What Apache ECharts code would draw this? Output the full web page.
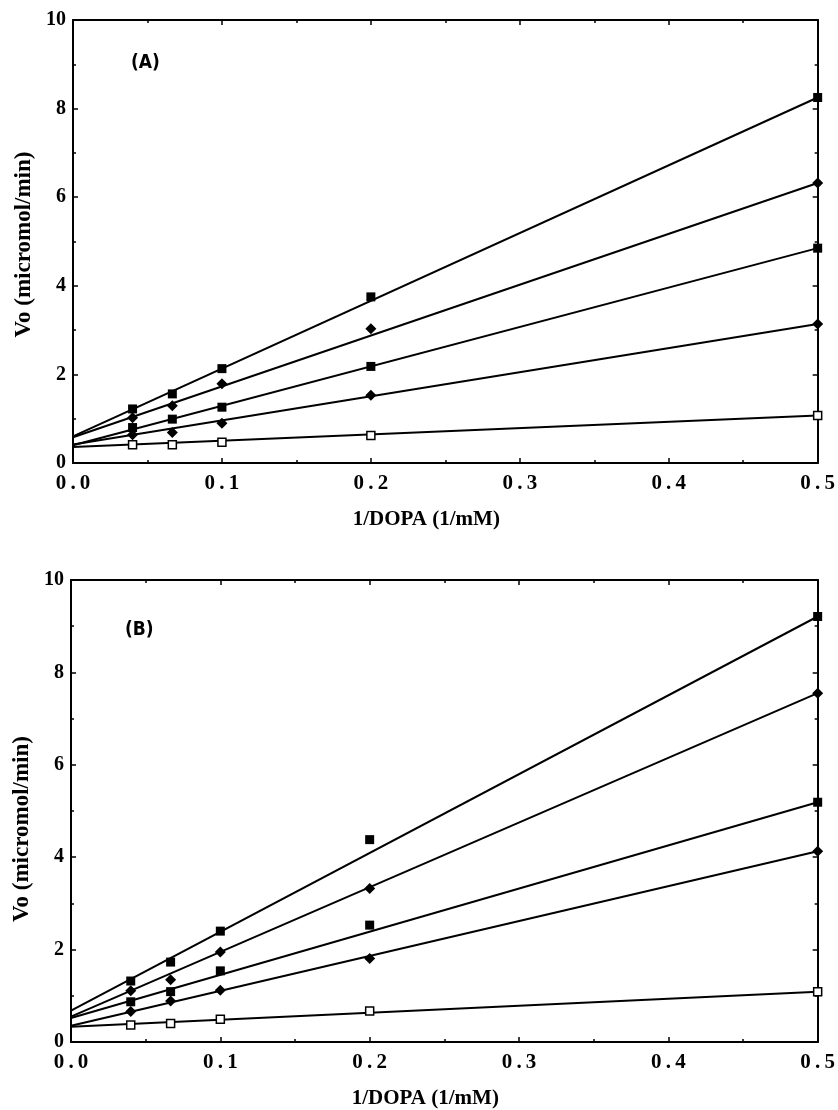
<!DOCTYPE html>
<html>
<head>
<meta charset="utf-8">
<script src="https://cdn.jsdelivr.net/npm/echarts@6/dist/echarts.min.js"></script>
<style>
html,body{margin:0;padding:0;background:#fff;}
#c{width:838px;height:1110px;}
</style>
</head>
<body>
<div id="c"></div>
<script>
// 1/DOPA values (1/mM)
const xValues = [0.04, 0.0667, 0.1, 0.2, 0.5];
const fitX = [0, 0.5];
const xTicks = [0, 0.1, 0.2, 0.3, 0.4, 0.5];
const yTicks = [0, 2, 4, 6, 8, 10];

// Panel A measured Vo
const a1 = [1.22, 1.56, 2.13, 3.75, 8.25];
const a2 = [1.02, 1.29, 1.79, 3.03, 6.32];
const a3 = [0.80, 0.99, 1.26, 2.18, 4.85];
const a4 = [0.64, 0.69, 0.90, 1.53, 3.14];
const a5 = [0.41, 0.41, 0.47, 0.62, 1.07];
// Panel A fitted lines: value at x=0 and x=0.5
const fitA1 = [0.60, 8.25];
const fitA2 = [0.58, 6.32];
const fitA3 = [0.40, 4.85];
const fitA4 = [0.42, 3.14];
const fitA5 = [0.36, 1.07];

// Panel B measured Vo
const b1 = [1.32, 1.73, 2.40, 4.38, 9.21];
const b2 = [1.11, 1.35, 1.95, 3.32, 7.55];
const b3 = [0.87, 1.09, 1.54, 2.53, 5.19];
const b4 = [0.66, 0.89, 1.12, 1.81, 4.13];
const b5 = [0.37, 0.40, 0.49, 0.67, 1.09];
// Panel B fitted lines
const fitB1 = [0.68, 9.21];
const fitB2 = [0.55, 7.55];
const fitB3 = [0.52, 5.19];
const fitB4 = [0.35, 4.13];
const fitB5 = [0.33, 1.09];

const seriesA = [a1, a2, a3, a4, a5];
const seriesB = [b1, b2, b3, b4, b5];
const fitsA = [fitA1, fitA2, fitA3, fitA4, fitA5];
const fitsB = [fitB1, fitB2, fitB3, fitB4, fitB5];

const SERIF = "'Liberation Serif','Times New Roman',serif";
const NARROW = "'Liberation Sans Narrow','DejaVu Sans Condensed','Roboto',sans-serif";
const markerStyles = [
  {symbol: 'rect', size: 9, color: '#000', border: '#000'},
  {symbol: 'diamond', size: 11, color: '#000', border: '#000'},
  {symbol: 'rect', size: 9, color: '#000', border: '#000'},
  {symbol: 'diamond', size: 11, color: '#000', border: '#000'},
  {symbol: 'rect', size: 8, color: '#fff', border: '#000'}
];

function xAxisDef(gridIndex, pos, labels) {
  return {
    type: 'value', gridIndex: gridIndex, position: pos,
    min: 0, max: 0.5, interval: 0.1,
    name: labels ? '1/DOPA (1/mM)' : '',
    nameLocation: 'middle', nameGap: 46,
    nameTextStyle: {fontFamily: SERIF, fontWeight: 'bold', fontSize: 21, color: '#000', padding: [0, 38, 0, 0]},
    axisLine: {show: true, onZero: false, lineStyle: {color: '#000', width: 2}},
    axisTick: {show: true, inside: true, length: 5, lineStyle: {color: '#000', width: 1.5}},
    minorTick: {show: true, splitNumber: 2, length: 3, lineStyle: {color: '#000', width: 1.5}},
    splitLine: {show: false},
    axisLabel: {
      show: labels, margin: 10, color: '#000',
      fontFamily: SERIF, fontWeight: 'bold', fontSize: 21,
      formatter: v => v.toFixed(1).split('').join('\u2009')
    }
  };
}
function yAxisDef(gridIndex, pos, labels, gap, pad) {
  return {
    type: 'value', gridIndex: gridIndex, position: pos,
    min: 0, max: 10, interval: 2,
    name: labels ? 'Vo (micromol/min)' : '',
    nameLocation: 'middle', nameGap: gap, nameRotate: 90,
    nameTextStyle: {fontFamily: SERIF, fontWeight: 'bold', fontSize: 23, color: '#000', padding: pad},
    axisLine: {show: true, onZero: false, lineStyle: {color: '#000', width: 2}},
    axisTick: {show: true, inside: true, length: 5, lineStyle: {color: '#000', width: 1.5}},
    minorTick: {show: true, splitNumber: 2, length: 3, lineStyle: {color: '#000', width: 1.5}},
    splitLine: {show: false},
    axisLabel: {
      show: labels, margin: 7, color: '#000',
      fontFamily: SERIF, fontWeight: 'bold', fontSize: 20,
      formatter: v => String(v)
    }
  };
}

const series = [];
function addPanel(vals, fits, xi, yi) {
  fits.forEach(f => {
    series.push({
      type: 'line', xAxisIndex: xi, yAxisIndex: yi,
      data: fitX.map((x, k) => [x, f[k]]),
      showSymbol: false, symbol: 'none', silent: true,
      lineStyle: {color: '#000', width: 2}, z: 2
    });
  });
  vals.forEach((v, i) => {
    const m = markerStyles[i];
    series.push({
      type: 'scatter', xAxisIndex: xi, yAxisIndex: yi,
      data: xValues.map((x, j) => [x, v[j]]),
      symbol: m.symbol, symbolSize: m.size,
      itemStyle: {color: m.color, borderColor: m.border, borderWidth: i === 4 ? 1.5 : 0, opacity: 1},
      z: 5
    });
  });
}
addPanel(seriesA, fitsA, 0, 0);
addPanel(seriesB, fitsB, 2, 2);

const chart = echarts.init(document.getElementById('c'), null, {renderer: 'canvas'});
chart.setOption({
  backgroundColor: '#fff',
  animation: false,
  grid: [
    {left: 73, top: 20, width: 750, height: 443},
    {left: 71, top: 580, width: 752, height: 462}
  ],
  xAxis: [
    xAxisDef(0, 'bottom', true),
    xAxisDef(0, 'top', false),
    xAxisDef(1, 'bottom', true),
    xAxisDef(1, 'top', false)
  ],
  yAxis: [
    yAxisDef(0, 'left', true, 32, [0, 6, 0, 0]),
    yAxisDef(0, 'right', false, 0, 0),
    yAxisDef(1, 'left', true, 35, [0, 36, 0, 0]),
    yAxisDef(1, 'right', false, 0, 0)
  ],
  graphic: [
    {type: 'text', left: 131, top: 54, style: {text: '(A)', fontFamily: NARROW, fontWeight: 'bold', fontSize: 19, fill: '#000'}},
    {type: 'text', left: 125, top: 621, style: {text: '(B)', fontFamily: NARROW, fontWeight: 'bold', fontSize: 19, fill: '#000'}}
  ],
  series: series
});
</script>
</body>
</html>
